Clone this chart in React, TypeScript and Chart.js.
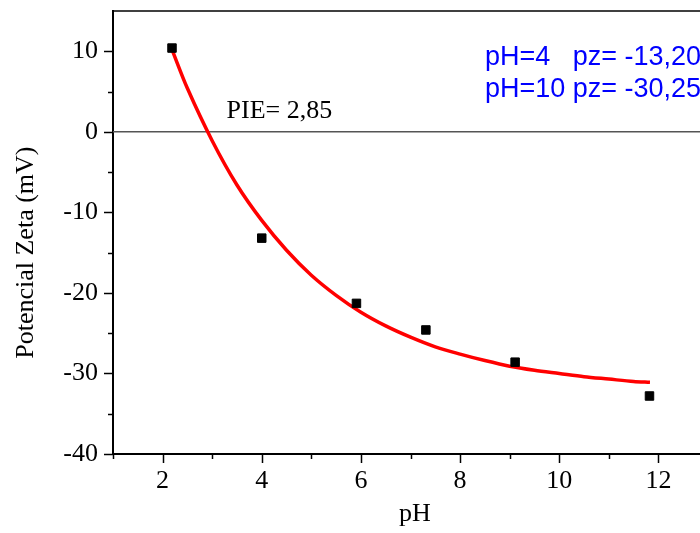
import React, { useEffect, useRef } from "react";
import { Chart, registerables } from "chart.js";

Chart.register(...registerables);

// Measured points (black squares)
const measuredPH = [2.19, 4.0, 5.91, 7.31, 9.11, 11.82];
const measuredZeta = [10.4, -13.2, -21.3, -24.6, -28.6, -32.8];

// Fitted curve (red)
const fitPH = [2.19, 2.5, 3.0, 3.5, 4.0, 4.5, 5.0, 5.5, 6.0, 6.5, 7.0, 7.5, 8.0, 8.5, 9.0, 9.5, 10.0, 10.5, 11.0, 11.5, 11.83];
const fitZeta = [10.2, 5.4, -1.1, -6.6, -11.0, -14.7, -17.8, -20.3, -22.4, -24.1, -25.5, -26.7, -27.6, -28.4, -29.1, -29.6, -30.0, -30.4, -30.7, -31.0, -31.1];

// Axis ticks
const xMajorTicks = [2, 4, 6, 8, 10, 12];
const xMinorTicks = [1, 3, 5, 7, 9, 11, 13];
const yMajorTicks = [-40, -30, -20, -10, 0, 10];
const yMinorTicks = [-35, -25, -15, -5, 5];

// Titles and text annotations (positions in data units)
const xTitle = "pH";
const xTitleAt = 7.09;
const yTitle = "Potencial Zeta (mV)";
const yTitleAt = -15;
const pieLabel = "PIE= 2,85";
const pieAt = [3.29, 1.75];
const infoLines = ["pH=4   pz= -13,20", "pH=10 pz= -30,25"];
const infoAt = [[8.5, 8.3], [8.5, 4.32]];

const SERIF = '"Liberation Serif", "Times New Roman", serif';
const SANS = '"Liberation Sans", Arial, sans-serif';

const framePlugin = {
  id: "frame",
  beforeDatasetsDraw(chart: any) {
    const { ctx, chartArea, scales } = chart;
    const y0 = scales.y.getPixelForValue(0);
    ctx.save();
    ctx.strokeStyle = "#555555";
    ctx.lineWidth = 1.5;
    ctx.beginPath();
    ctx.moveTo(chartArea.left, y0);
    ctx.lineTo(chartArea.right, y0);
    ctx.stroke();
    ctx.restore();
  },
  afterDraw(chart: any) {
    const { ctx, chartArea, scales } = chart;
    const xs = scales.x;
    const ys = scales.y;
    ctx.save();
    // top border
    ctx.strokeStyle = "#000";
    ctx.lineWidth = 1.5;
    ctx.beginPath();
    ctx.moveTo(chartArea.left, chartArea.top);
    ctx.lineTo(chartArea.right, chartArea.top);
    ctx.stroke();
    // tick marks
    ctx.lineWidth = 1.5;
    const b = chartArea.bottom;
    const l = chartArea.left;
    const drawX = (v: number, len: number) => {
      const p = Math.round(xs.getPixelForValue(v)) + 0.5;
      ctx.beginPath();
      ctx.moveTo(p, b);
      ctx.lineTo(p, b + len);
      ctx.stroke();
    };
    const drawY = (v: number, len: number) => {
      const p = Math.round(ys.getPixelForValue(v)) + 0.5;
      ctx.beginPath();
      ctx.moveTo(l, p);
      ctx.lineTo(l - len, p);
      ctx.stroke();
    };
    xMajorTicks.forEach((v) => drawX(v, 9));
    xMinorTicks.forEach((v) => drawX(v, 5));
    yMajorTicks.forEach((v) => drawY(v, 9));
    yMinorTicks.forEach((v) => drawY(v, 5));

    // axis titles
    ctx.fillStyle = "#000";
    ctx.font = `26px ${SERIF}`;
    ctx.textBaseline = "alphabetic";
    ctx.textAlign = "center";
    ctx.fillText(xTitle, xs.getPixelForValue(xTitleAt), 521);
    ctx.save();
    ctx.translate(33, ys.getPixelForValue(yTitleAt));
    ctx.rotate(-Math.PI / 2);
    ctx.fillText(yTitle, 0, 0);
    ctx.restore();

    // annotations
    ctx.textAlign = "left";
    ctx.fillText(pieLabel, xs.getPixelForValue(pieAt[0]), ys.getPixelForValue(pieAt[1]));
    ctx.fillStyle = "#0000ff";
    ctx.font = `27px ${SANS}`;
    infoLines.forEach((t, i) => {
      ctx.fillText(t, xs.getPixelForValue(infoAt[i][0]), ys.getPixelForValue(infoAt[i][1]));
    });
    ctx.restore();
  },
};

export default function App() {
  const ref = useRef<HTMLCanvasElement | null>(null);
  useEffect(() => {
    if (!ref.current) return;
    const chart = new Chart(ref.current, {
      type: "scatter",
      data: {
        datasets: [
          {
            label: "fit",
            data: fitPH.map((x, i) => ({ x, y: fitZeta[i] })),
            showLine: true,
            borderColor: "#ff0000",
            borderWidth: 3.5,
            pointRadius: 0,
            tension: 0.3,
            order: 2,
          },
          {
            label: "data",
            data: measuredPH.map((x, i) => ({ x, y: measuredZeta[i] })),
            showLine: false,
            pointStyle: "rect",
            pointRadius: 6,
            backgroundColor: "#000",
            borderColor: "#000",
            borderWidth: 1,
            order: 1,
          },
        ],
      },
      options: {
        responsive: false,
        animation: false,
        devicePixelRatio: 1,
        layout: { padding: { top: 11, left: 0, right: 0, bottom: 0 } },
        plugins: { legend: { display: false }, tooltip: { enabled: false } },
        scales: {
          x: {
            type: "linear",
            min: 1,
            max: 13,
            grid: { display: false, drawTicks: false },
            border: { display: true, color: "#000", width: 2 },
            ticks: {
              autoSkip: false,
              maxRotation: 0,
              padding: 12,
              color: "#000",
              font: { family: SERIF, size: 26 },
            },
            afterBuildTicks: (s: any) => {
              s.ticks = xMajorTicks.map((v) => ({ value: v }));
            },
            afterFit: (s: any) => {
              s.height = 79;
              s.paddingLeft = 0;
              s.paddingRight = 0;
            },
          },
          y: {
            type: "linear",
            min: -40,
            max: 15,
            grid: { display: false, drawTicks: false },
            border: { display: true, color: "#000", width: 2 },
            ticks: {
              autoSkip: false,
              padding: 15,
              color: "#000",
              font: { family: SERIF, size: 26 },
            },
            afterBuildTicks: (s: any) => {
              s.ticks = yMajorTicks.map((v) => ({ value: v }));
            },
            afterFit: (s: any) => {
              s.width = 113;
              s.paddingTop = 0;
              s.paddingBottom = 0;
            },
          },
        },
      },
      plugins: [framePlugin],
    } as any);
    return () => chart.destroy();
  }, []);
  return (
    <div style={{ position: "fixed", left: 0, top: 0, width: 700, height: 533, overflow: "hidden", background: "#fff" }}>
      <canvas ref={ref} width={715} height={533} style={{ width: 715, height: 533, display: "block" }} />
    </div>
  );
}
